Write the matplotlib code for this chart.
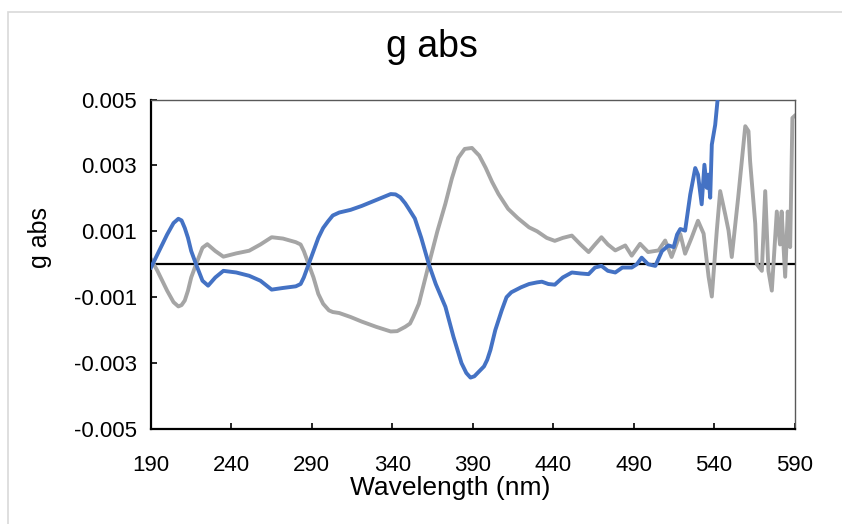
import matplotlib
matplotlib.use("Agg")
import matplotlib.pyplot as plt
from matplotlib.patches import Rectangle

plt.rcParams['font.family'] = ['Liberation Sans', 'DejaVu Sans']

# wavelength (nm) and g-factor for the two samples
wl_blue = [190, 194, 200, 204, 207, 209, 211, 213, 215, 218, 222, 225.5, 230, 235,
           243, 251, 258, 265, 272, 280, 283, 285, 288, 291, 294, 297, 300, 303,
           307, 314, 321, 330, 339, 342, 345, 348, 350, 354, 358, 362.7, 367, 373,
           378, 383, 386, 388.6, 391, 393, 397, 399, 401, 404, 408, 411, 414, 420,
           425, 430, 433, 437, 441, 446, 451.6, 457, 462, 466, 470, 474, 478.6, 483,
           488.8, 492, 495, 499, 503.5, 507.6, 511.7, 514.9, 517, 519, 522, 525.2,
           528.3, 530, 532.3, 534, 535.5, 536.5, 537.6, 538.6, 540.7, 542.6, 544]
g_blue = [-0.0001, 0.0003, 0.0009, 0.00125, 0.00138, 0.00133, 0.0011, 0.0008,
          0.0004, 0.0, -0.0005, -0.00065, -0.0004, -0.0002, -0.00025, -0.00035,
          -0.0005, -0.00077, -0.00072, -0.00067, -0.0006, -0.0004, 0.0, 0.0004,
          0.0008, 0.0011, 0.0013, 0.00148, 0.00157, 0.00165, 0.00177, 0.00195,
          0.00213, 0.00212, 0.00203, 0.00185, 0.0017, 0.00139, 0.0008, 0.0,
          -0.0006, -0.00129, -0.0022, -0.003, -0.0033, -0.00344, -0.0034,
          -0.0033, -0.0031, -0.0029, -0.0026, -0.002, -0.0014, -0.001, -0.00085,
          -0.0007, -0.0006, -0.00055, -0.00053, -0.0006, -0.00062, -0.0004,
          -0.00025, -0.00028, -0.0003, -0.0001, -0.00005, -0.0002, -0.00025,
          -0.0001, -0.0001, 0.0, 0.0002, 0.0, -0.00005, 0.0004, 0.00057, 0.00052,
          0.0009, 0.00107, 0.00102, 0.00212, 0.00292, 0.00272, 0.00182, 0.00302,
          0.00232, 0.00272, 0.00202, 0.00363, 0.00423, 0.0052, 0.006]

wl_gray = [190, 194, 200, 204, 207, 209, 211, 213, 215, 218, 222, 225, 230, 235,
           243, 251, 258, 265, 272, 280, 283, 285, 288, 291, 294, 297, 300.6, 303,
           307, 314, 321, 330, 339, 343, 348, 351, 353, 356.5, 362.7, 368, 373, 377,
           381, 385, 389.5, 392, 394, 398, 402, 406, 412, 418, 425, 430, 436, 441,
           446, 451.6, 457, 462, 466, 470, 474, 478.6, 484.8, 488.8, 494, 499,
           505.5, 509.6, 513.6, 519, 522, 526, 530, 533.5, 536.6, 538.6, 541.7,
           543.8, 547, 549, 551, 555, 559.4, 561.4, 562.4, 565.6, 566.6, 569.7,
           571.8, 573.8, 575.9, 579, 581, 582, 584.2, 585.8, 587.3, 588.7, 590]
g_gray = [0.00015, -0.0002, -0.0008, -0.00115, -0.00128, -0.00124, -0.0011,
          -0.0008, -0.0004, 0.0, 0.0005, 0.00061, 0.0004, 0.00023, 0.00033,
          0.00041, 0.0006, 0.00082, 0.00078, 0.00067, 0.0006, 0.0004, 0.0,
          -0.0004, -0.0009, -0.0012, -0.0014, -0.00145, -0.00148, -0.0016,
          -0.00174, -0.0019, -0.00204, -0.00203, -0.0019, -0.0018, -0.0016,
          -0.0012, 0.0, 0.001, 0.00184, 0.0026, 0.00323, 0.0035, 0.00353, 0.0034,
          0.0033, 0.00293, 0.0025, 0.00213, 0.00168, 0.0014, 0.00112, 0.001,
          0.0008, 0.00071, 0.0008, 0.00087, 0.0006, 0.00037, 0.0006, 0.00082,
          0.0006, 0.00042, 0.00057, 0.00026, 0.00062, 0.00037, 0.00042, 0.00072,
          0.00022, 0.00092, 0.00032, 0.0008, 0.00132, 0.00093, -0.00038, -0.00098,
          0.00102, 0.00222, 0.0015, 0.00102, 0.00022, 0.00203, 0.00419, 0.00404,
          0.00313, 0.00123, 0.0, -0.0002, 0.00222, -0.0002, -0.0008, 0.0016,
          0.0006, 0.0016, -0.00038, 0.0016, 0.00052, 0.00444, 0.0045]

x_ticks = [190, 240, 290, 340, 390, 440, 490, 540, 590]
y_ticks = [0.005, 0.003, 0.001, -0.001, -0.003, -0.005]
y_tick_labels = ['0.005', '0.003', '0.001', '-0.001', '-0.003', '-0.005']

fig = plt.figure(figsize=(8.42, 5.24), dpi=100)

# chart area outline
fig.patches.append(Rectangle((8 / 842, -0.1), 1.2, 1 - 12 / 524 + 0.1,
                             transform=fig.transFigure, fill=False,
                             edgecolor='#d9d9d9', linewidth=1.2))

ax = fig.add_axes([151 / 842, 1 - 429 / 524, 643.5 / 842, 329.5 / 524])

ax.axhline(0, color='black', linewidth=1.6, zorder=1)
ax.plot(wl_blue, g_blue, color='#4472c4', linewidth=2.8, zorder=3)
ax.plot(wl_gray, g_gray, color='#a5a5a5', linewidth=2.8, zorder=2)

ax.set_xlim(190, 590)
ax.set_ylim(-0.005, 0.005)
ax.set_xticks(x_ticks)
ax.set_xticklabels([str(t) for t in x_ticks])
ax.set_yticks(y_ticks)
ax.set_yticklabels(y_tick_labels)
ax.tick_params(direction='in', length=4.5, width=1.2, labelsize=16,
               colors='black')
ax.tick_params(axis='x', pad=19)
ax.tick_params(axis='y', pad=10)

for side in ('left', 'bottom'):
    ax.spines[side].set_color('black')
    ax.spines[side].set_linewidth(1.6)
for side in ('top', 'right'):
    ax.spines[side].set_color('#595959')
    ax.spines[side].set_linewidth(1.0)

fig.text(432 / 842, 1 - 47 / 524, 'g abs', ha='center', va='center', fontsize=27)
fig.text(450 / 842, 1 - 488 / 524, 'Wavelength (nm)', ha='center', va='center',
         fontsize=19)
fig.text(40 / 842, 1 - 238 / 524, 'g abs', ha='center', va='center',
         rotation=90, fontsize=18)

fig.savefig('out.png', dpi=100)
